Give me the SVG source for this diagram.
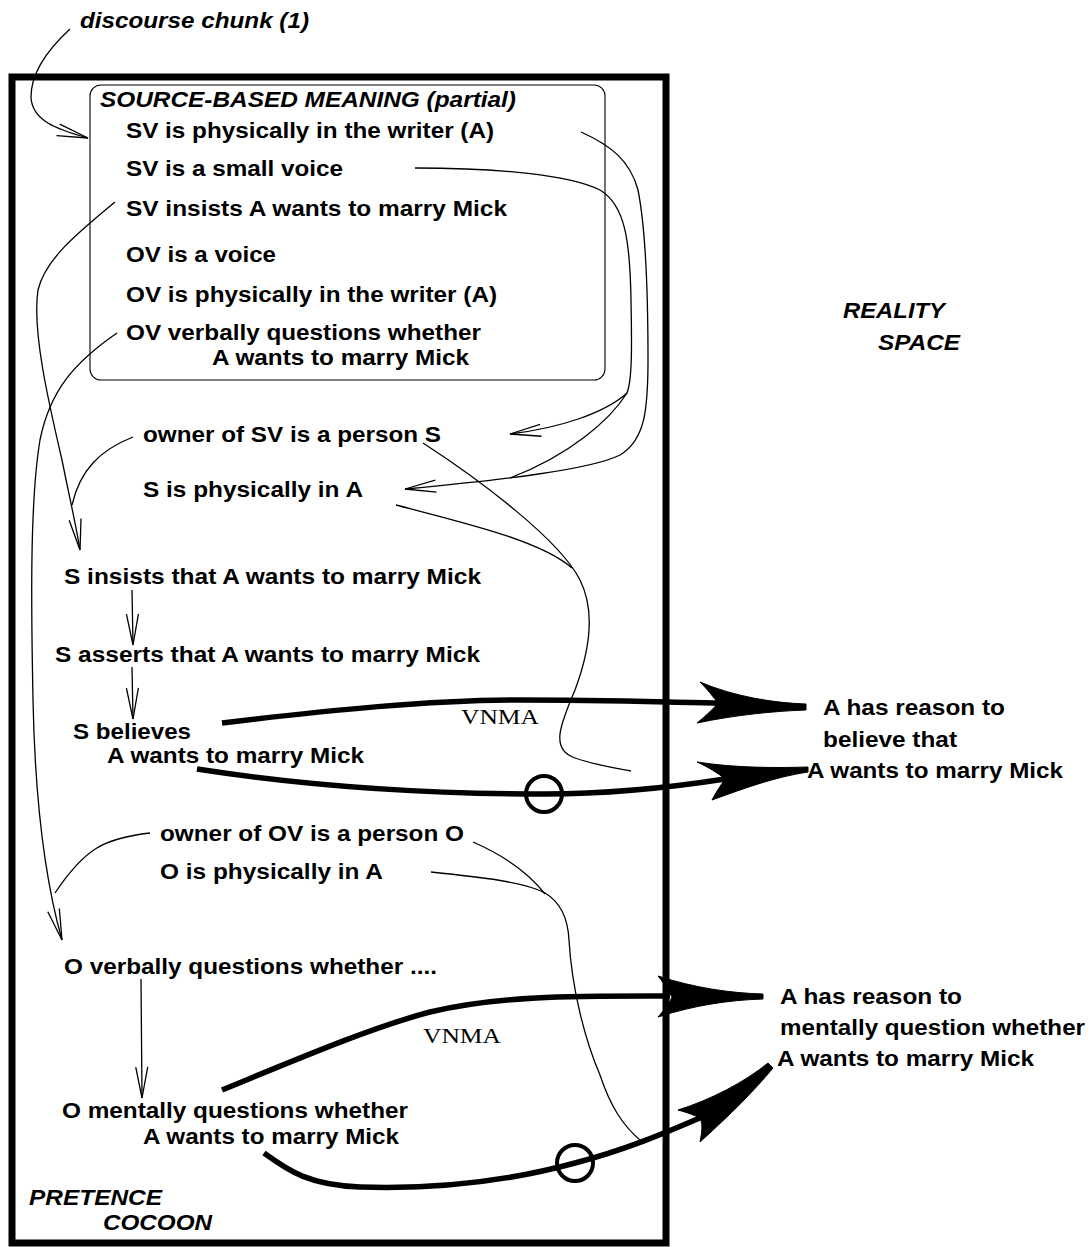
<svg xmlns="http://www.w3.org/2000/svg" width="1091" height="1247" viewBox="0 0 1091 1247">
<style>
.t{font-family:"Liberation Sans",Arial,sans-serif;font-weight:bold;font-size:22.5px;fill:#000}
.i{font-family:"Liberation Sans",Arial,sans-serif;font-weight:bold;font-style:italic;font-size:22.5px;fill:#000}
.v{font-family:"Liberation Serif","Times New Roman",serif;font-size:22px;fill:#000}
.thin{fill:none;stroke:#000;stroke-width:1.3}
.thick{fill:none;stroke:#000;stroke-width:5.5}
.head{fill:#000;stroke:#000;stroke-width:1}
.ring{fill:none;stroke:#000;stroke-width:4}
</style>
<defs>
<marker id="open" markerUnits="userSpaceOnUse" viewBox="-34 -10 36 20" markerWidth="36" markerHeight="20" refX="0" refY="0" orient="auto" overflow="visible">
<path d="M-31,-6 L0,0 L-31,6" fill="none" stroke="#000" stroke-width="1.3"/>
</marker>
</defs>
<rect width="1091" height="1247" fill="#fff"/>
<g id="cocoon">
<rect x="12" y="77" width="654" height="1166" fill="none" stroke="#000" stroke-width="7"/>
<text class="i" x="29" y="1205" textLength="133" lengthAdjust="spacingAndGlyphs">PRETENCE</text>
<text class="i" x="103" y="1230" textLength="109" lengthAdjust="spacingAndGlyphs">COCOON</text>
</g>
<g id="reality-label">
<text class="i" x="843" y="318" textLength="102" lengthAdjust="spacingAndGlyphs">REALITY</text>
<text class="i" x="878" y="350" textLength="82" lengthAdjust="spacingAndGlyphs">SPACE</text>
</g>
<g id="discourse-chunk">
<text class="i" x="80" y="28" textLength="229" lengthAdjust="spacingAndGlyphs">discourse chunk (1)</text>
</g>
<g id="source-meaning">
<rect x="90" y="85" width="515" height="295" rx="11" ry="11" fill="none" stroke="#000" stroke-width="1.1"/>
<text class="i" x="100" y="107" textLength="416" lengthAdjust="spacingAndGlyphs">SOURCE-BASED MEANING (partial)</text>
<text class="t" x="126" y="138" textLength="368" lengthAdjust="spacingAndGlyphs">SV is physically in the writer (A)</text>
<text class="t" x="126" y="176" textLength="217" lengthAdjust="spacingAndGlyphs">SV is a small voice</text>
<text class="t" x="126" y="216" textLength="381" lengthAdjust="spacingAndGlyphs">SV insists A wants to marry Mick</text>
<text class="t" x="126" y="262" textLength="150" lengthAdjust="spacingAndGlyphs">OV is a voice</text>
<text class="t" x="126" y="302" textLength="371" lengthAdjust="spacingAndGlyphs">OV is physically in the writer (A)</text>
<text class="t" x="126" y="340" textLength="355" lengthAdjust="spacingAndGlyphs">OV verbally questions whether</text>
<text class="t" x="212" y="365" textLength="257" lengthAdjust="spacingAndGlyphs">A wants to marry Mick</text>
</g>
<g id="owner-sv"><text class="t" x="143" y="442" textLength="298" lengthAdjust="spacingAndGlyphs">owner of SV is a person S</text></g>
<g id="s-in-a"><text class="t" x="143" y="497" textLength="220" lengthAdjust="spacingAndGlyphs">S is physically in A</text></g>
<g id="s-insists"><text class="t" x="64" y="584" textLength="417" lengthAdjust="spacingAndGlyphs">S insists that A wants to marry Mick</text></g>
<g id="s-asserts"><text class="t" x="55" y="662" textLength="425" lengthAdjust="spacingAndGlyphs">S asserts that A wants to marry Mick</text></g>
<g id="s-believes">
<text class="t" x="73" y="739" textLength="118" lengthAdjust="spacingAndGlyphs">S believes</text>
<text class="t" x="107" y="763" textLength="257" lengthAdjust="spacingAndGlyphs">A wants to marry Mick</text>
</g>
<g id="a-reason-believe">
<text class="t" x="823" y="715" textLength="182" lengthAdjust="spacingAndGlyphs">A has reason to</text>
<text class="t" x="823" y="747" textLength="134" lengthAdjust="spacingAndGlyphs">believe that</text>
<text class="t" x="807" y="778" textLength="256" lengthAdjust="spacingAndGlyphs">A wants to marry Mick</text>
</g>
<g id="owner-ov"><text class="t" x="160" y="841" textLength="304" lengthAdjust="spacingAndGlyphs">owner of OV is a person O</text></g>
<g id="o-in-a"><text class="t" x="160" y="879" textLength="223" lengthAdjust="spacingAndGlyphs">O is physically in A</text></g>
<g id="o-verbally"><text class="t" x="64" y="974" textLength="373" lengthAdjust="spacingAndGlyphs">O verbally questions whether ....</text></g>
<g id="o-mentally">
<text class="t" x="62" y="1118" textLength="346" lengthAdjust="spacingAndGlyphs">O mentally questions whether</text>
<text class="t" x="143" y="1144" textLength="256" lengthAdjust="spacingAndGlyphs">A wants to marry Mick</text>
</g>
<g id="a-reason-question">
<text class="t" x="780" y="1004" textLength="182" lengthAdjust="spacingAndGlyphs">A has reason to</text>
<text class="t" x="780" y="1035" textLength="305" lengthAdjust="spacingAndGlyphs">mentally question whether</text>
<text class="t" x="777" y="1066" textLength="257" lengthAdjust="spacingAndGlyphs">A wants to marry Mick</text>
</g>
<g id="connectors">
<path class="thin" d="M70,29 C45,52 31,75 31,97 C32,120 55,129 88,138" marker-end="url(#open)"/>
<path class="thin" d="M581,132 C610,145 630,160 638,190 C646,230 648,300 648,360 C648,410 645,440 620,455 C590,470 500,480 405,489" marker-end="url(#open)"/>
<path class="thin" d="M415,168 C500,168 570,175 600,190 C625,205 630,240 631,300 C632,350 632,380 627,393 C605,413 560,428 510,434" marker-end="url(#open)"/>
<path class="thin" d="M627,393 C610,420 570,455 510,478"/>
<path class="thin" d="M115,202 C75,235 45,260 38,290 C32,330 48,400 62,460 C70,500 76,525 80,550" marker-end="url(#open)"/>
<path class="thin" d="M117,333 C75,362 50,390 40,440 C30,500 31,600 33,700 C35,800 45,880 62,940" marker-end="url(#open)"/>
<path class="thin" d="M133,437 C100,450 80,470 72,505"/>
<path class="thin" d="M132,590 L133,645" marker-end="url(#open)"/>
<path class="thin" d="M132,667 L133,719" marker-end="url(#open)"/>
<path class="thin" d="M150,833 C105,838 85,848 55,893"/>
<path class="thin" d="M141,979 L142,1098" marker-end="url(#open)"/>
<path class="thin" d="M423,443 C480,480 560,540 580,580 C595,610 590,650 575,690 C560,725 550,750 575,758 C595,765 615,768 631,771"/>
<path class="thin" d="M396,505 C460,522 540,540 572,568"/>
<path class="thin" d="M473,842 C505,856 528,872 545,894"/>
<path class="thin" d="M431,872 C480,877 525,882 545,893 C562,903 568,920 569,940 C572,990 585,1040 600,1075 C610,1105 622,1125 641,1141"/>
<path class="thick" d="M222,723 C330,710 430,700 520,700 C600,700 660,702 718,703"/>
<path class="head" d="M700,682 C735,697 775,703 806,704 L806,710 C775,711 735,715 697,723 C708,714 714,708 718,703 C714,698 708,690 700,682 Z"/>
<path class="thick" d="M197,769 C300,785 420,794 545,794 C620,794 680,786 725,779"/>
<path class="head" d="M697,762 C735,768 775,768 808,767 L808,772 C775,777 745,788 712,800 C716,792 721,785 725,779 C718,773 708,767 697,762 Z"/>
<circle class="ring" cx="544" cy="794" r="18"/>
<path class="thick" d="M222,1090 C300,1058 370,1028 430,1012 C500,995 580,996 670,996"/>
<path class="head" d="M658,976 C695,988 730,993 763,994 L763,999 C730,1000 695,1005 658,1017 C666,1008 670,1002 672,997 C668,990 664,983 658,976 Z"/>
<path class="thick" d="M264,1153 C290,1172 310,1185 360,1187 C450,1190 520,1178 575,1163 C625,1150 665,1133 702,1117"/>
<path class="head" d="M678,1110 C710,1100 745,1082 768,1063 L773,1068 C755,1090 730,1115 700,1142 C702,1132 703,1124 700,1118 C694,1115 686,1112 678,1110 Z"/>
<circle class="ring" cx="575" cy="1163" r="18"/>
<text class="v" x="461" y="724" textLength="78" lengthAdjust="spacingAndGlyphs">VNMA</text>
<text class="v" x="423" y="1043" textLength="78" lengthAdjust="spacingAndGlyphs">VNMA</text>
</g>
</svg>
